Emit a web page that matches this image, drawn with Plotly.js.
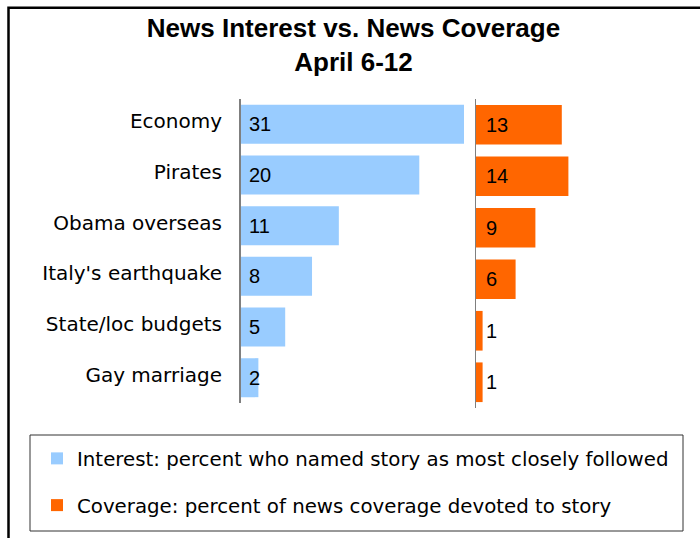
<!DOCTYPE html>
<html>
<head>
<meta charset="utf-8">
<script src="https://cdn.plot.ly/plotly-3.0.1.min.js"></script>
<style>html,body{margin:0;padding:0;background:#fff;}#chart{width:700px;height:538px;}</style>
</head>
<body>
<div id="chart"></div>
<script>
const categories = ["Economy", "Pirates", "Obama overseas", "Italy's earthquake", "State/loc budgets", "Gay marriage"];
const interest = [31, 20, 11, 8, 5, 2];
const coverage = [13, 14, 9, 6, 1, 1];
const seriesNames = [
  "Interest: percent who named story as most closely followed",
  "Coverage: percent of news coverage devoted to story"
];
const titleText = "News Interest vs. News Coverage<br>April 6-12";

const W = 700, H = 538;
const px = v => v / W;
const py = v => 1 - v / H;

const traces = [
  {
    type: 'bar', orientation: 'h', y: categories, x: interest,
    xaxis: 'x', yaxis: 'y', name: seriesNames[0], legendgroup: 'a',
    marker: {color: '#99CCFF'}, hoverinfo: 'skip', cliponaxis: true
  },
  {
    type: 'bar', orientation: 'h', y: categories, x: coverage,
    xaxis: 'x2', yaxis: 'y2', name: seriesNames[1], legendgroup: 'b',
    marker: {color: '#FF6600'}, hoverinfo: 'skip', cliponaxis: true
  }
];

const labelFont = {family: 'Liberation Sans, Arial, sans-serif', size: 20, color: '#000'};
const annotations = [];
categories.forEach((c, i) => {
  annotations.push({xref: 'x', yref: 'y', x: 0, y: c, text: String(interest[i]),
    xanchor: 'left', xshift: 6, showarrow: false, font: labelFont});
  annotations.push({xref: 'x2', yref: 'y2', x: 0, y: c, text: String(coverage[i]),
    xanchor: 'left', xshift: 8, showarrow: false, font: labelFont});
});

const hidden = {showgrid: false, zeroline: false, showticklabels: false, showline: false, ticks: ''};

const layout = {
  width: W, height: H,
  margin: {l: 0, r: 0, t: 0, b: 0},
  paper_bgcolor: '#fff', plot_bgcolor: 'rgba(0,0,0,0)',
  bargap: 0.23,
  title: {
    text: titleText, x: px(353.5), xanchor: 'center', xref: 'container',
    y: 1 - 37 / H, yanchor: 'middle', yref: 'container',
    font: {family: 'Liberation Sans, Arial, sans-serif', size: 26, color: '#000', weight: 'bold'}
  },
  xaxis: Object.assign({domain: [px(240.5), px(464)], range: [0, 25], anchor: 'y', fixedrange: true}, hidden),
  yaxis: {
    domain: [py(403), py(99)], anchor: 'x', autorange: 'reversed', type: 'category',
    showline: true, linecolor: '#7f7f7f', linewidth: 1.5, showgrid: false, zeroline: false,
    ticks: 'outside', ticklen: 13, tickcolor: 'rgba(0,0,0,0)', ticklabelshift: 3,
    tickfont: {family: 'DejaVu Sans, sans-serif', size: 20, color: '#000'}
  },
  xaxis2: Object.assign({domain: [px(476), px(674)], range: [0, 30], anchor: 'y2', fixedrange: true}, hidden),
  yaxis2: {
    domain: [py(408), py(99)], anchor: 'x2', autorange: 'reversed', type: 'category',
    showline: true, linecolor: '#7f7f7f', linewidth: 1.5, showgrid: false, zeroline: false,
    showticklabels: false, ticks: ''
  },
  showlegend: true,
  legend: {
    x: px(37), y: py(439), xanchor: 'left', yanchor: 'top',
    orientation: 'v', traceorder: 'grouped', tracegroupgap: 18,
    bgcolor: 'rgba(0,0,0,0)', borderwidth: 0,
    font: {family: 'DejaVu Sans, sans-serif', size: 19.8, color: '#000'}
  },
  shapes: [
    {type: 'rect', xref: 'paper', yref: 'paper', x0: px(8.5), x1: 1.05, y0: -0.05, y1: py(7.8),
      line: {color: '#000', width: 2.5}, fillcolor: 'rgba(0,0,0,0)', layer: 'above'},
    {type: 'rect', xref: 'paper', yref: 'paper', x0: px(30), x1: px(683), y0: py(531), y1: py(435),
      line: {color: '#333', width: 1}, fillcolor: 'rgba(0,0,0,0)', layer: 'below'}
  ],
  annotations: annotations
};

Plotly.newPlot('chart', traces, layout, {staticPlot: true, displayModeBar: false});
</script>
</body>
</html>
